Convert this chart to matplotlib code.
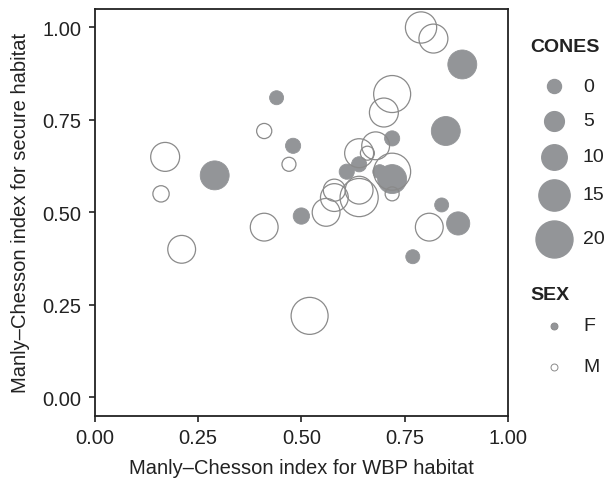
import matplotlib.pyplot as plt
from matplotlib.lines import Line2D

plt.rcParams['font.family'] = ['Liberation Sans', 'DejaVu Sans']

# --- data ---
wbp = [0.79, 0.82, 0.89, 0.44, 0.72, 0.70, 0.85, 0.41, 0.48, 0.72,
       0.64, 0.68, 0.66, 0.47, 0.17, 0.29, 0.16, 0.64, 0.61, 0.72,
       0.69, 0.72, 0.72, 0.58, 0.58, 0.64, 0.64, 0.56, 0.50, 0.41,
       0.21, 0.52, 0.84, 0.81, 0.88, 0.77]
secure = [1.00, 0.97, 0.90, 0.81, 0.82, 0.77, 0.72, 0.72, 0.68, 0.70,
          0.66, 0.68, 0.66, 0.63, 0.65, 0.60, 0.55, 0.63, 0.61, 0.61,
          0.61, 0.59, 0.55, 0.56, 0.54, 0.54, 0.56, 0.50, 0.49, 0.46,
          0.40, 0.22, 0.52, 0.46, 0.47, 0.38]
cones = [15, 13, 13, 0, 20, 13, 13, 1, 1, 1,
         13, 12, 0, 0, 13, 13, 2, 1, 1, 20,
         0, 13, 0, 7, 12, 21, 12, 12, 2, 12,
         12, 20, 0, 12, 8, 0]
sex = ['M', 'M', 'F', 'F', 'M', 'M', 'F', 'M', 'F', 'F',
       'M', 'M', 'M', 'M', 'M', 'F', 'M', 'F', 'F', 'M',
       'F', 'F', 'M', 'M', 'M', 'M', 'M', 'M', 'F', 'M',
       'M', 'M', 'F', 'M', 'F', 'F']

legend_cones = [0, 5, 10, 15, 20]
legend_sex = ['F', 'M']

fill_col = '#939598'
edge_col = '#8a8a8a'
text_col = '#222222'
fs = 14.5


def msize(c):
    # diameter in px grows linearly with cones
    d = 14 + 1.15 * c
    return (d * 0.72) ** 2


fig = plt.figure(figsize=(6.07, 4.81), dpi=100)
ax = fig.add_axes([95 / 607, 1 - 416.7 / 481, 412.7 / 607, 406.7 / 481])

# females filled, males hollow
for s in ['F', 'M']:
    xs = [x for x, g in zip(wbp, sex) if g == s]
    ys = [y for y, g in zip(secure, sex) if g == s]
    ss = [msize(c) for c, g in zip(cones, sex) if g == s]
    if s == 'F':
        ax.scatter(xs, ys, s=ss, facecolor=fill_col, edgecolor=fill_col,
                   linewidths=0.6, zorder=2)
    else:
        ax.scatter(xs, ys, s=ss, facecolor='none', edgecolor=edge_col,
                   linewidths=0.9, zorder=3)

ax.set_xlim(0, 1)
ax.set_ylim(-0.05, 1.05)
ax.set_xticks([0, 0.25, 0.5, 0.75, 1.0])
ax.set_yticks([0, 0.25, 0.5, 0.75, 1.0])
ax.set_xticklabels(['0.00', '0.25', '0.50', '0.75', '1.00'])
ax.set_yticklabels(['0.00', '0.25', '0.50', '0.75', '1.00'])
ax.tick_params(direction='out', length=4.5, width=1.2, colors=text_col,
               labelsize=fs)
ax.tick_params(axis='x', pad=4.5)
ax.tick_params(axis='y', pad=5.5)
for sp in ax.spines.values():
    sp.set_linewidth(1.3)
    sp.set_color(text_col)

ax.set_xlabel('Manly\u2013Chesson index for WBP habitat', fontsize=fs,
              color=text_col, labelpad=8)
ax.set_ylabel('Manly\u2013Chesson index for secure habitat', fontsize=fs,
              color=text_col, labelpad=9)

# --- legends, placed by hand in pixel coords ---
W, H = 607, 481


def fx(px):
    return px / W


def fy(py):
    return 1 - py / H


fig.text(fx(530), fy(47), 'CONES', fontsize=14, fontweight='bold',
         color=text_col, va='center', ha='left')
for c, py in zip(legend_cones, [87, 122, 158, 196, 240]):
    fig.add_artist(Line2D([fx(554)], [fy(py)], marker='o', linestyle='none',
                          markersize=(14 + 1.15 * c) * 0.72,
                          markerfacecolor=fill_col, markeredgecolor=fill_col,
                          transform=fig.transFigure))
    fig.text(fx(583), fy(py), str(c), fontsize=14, color=text_col,
             va='center', ha='left')

fig.text(fx(530), fy(296), 'SEX', fontsize=14, fontweight='bold',
         color=text_col, va='center', ha='left')
for g, py in zip(legend_sex, [327, 368]):
    fc = fill_col if g == 'F' else 'none'
    fig.add_artist(Line2D([fx(554)], [fy(py)], marker='o', linestyle='none',
                          markersize=5, markerfacecolor=fc,
                          markeredgecolor=edge_col, markeredgewidth=0.7,
                          transform=fig.transFigure))
    fig.text(fx(583), fy(py), g, fontsize=14, color=text_col,
             va='center', ha='left')

fig.savefig('out.png', dpi=100)
